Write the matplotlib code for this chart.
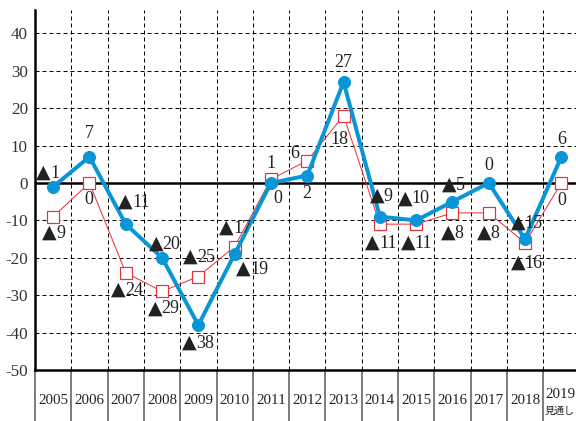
import matplotlib
matplotlib.use("Agg")
import matplotlib.pyplot as plt

# categories and series
years = ["2005", "2006", "2007", "2008", "2009", "2010", "2011", "2012",
         "2013", "2014", "2015", "2016", "2017", "2018", "2019\n見通し"]
blue_vals = [-1, 7, -11, -20, -38, -19, 0, 2, 27, -9, -10, -5, 0, -15, 7]
blue_labels = ["▲1", "7", "▲11", "▲20", "▲38", "▲19", "0", "2", "27",
               "▲9", "▲10", "▲5", "0", "▲15", "6"]
red_vals = [-9, 0, -24, -29, -25, -17, 1, 6, 18, -11, -11, -8, -8, -16, 0]
red_labels = ["▲9", "0", "▲24", "▲29", "▲25", "▲17", "1", "6", "18",
              "▲11", "▲11", "▲8", "▲8", "▲16", "0"]
yticks = list(range(-50, 41, 10))

# label offsets in points (dpi=72, so points == pixels)
blue_off = [(-5, 15), (0, 23), (9, 23), (3, 15), (0, -17), (18, -14), (7, -15),
            (0, -18), (0, 20), (2, 22), (-2, 23), (1, 18), (0, 18), (2, 17), (0, 17)]
red_off = [(1, -15), (-1, -16), (2, -16), (2, -16), (1, 21), (1, 20), (0, 16),
           (-12, 7), (-4, -24), (2, -18), (1, -18), (0, -19), (0, -19), (2, -19), (0, -17)]

BLUE = "#0a96d6"
RED = "#e8303a"
TXT = "#222222"
SERIF = ["Liberation Serif", "DejaVu Serif"]

plt.rcParams["font.family"] = SERIF

fig = plt.figure(figsize=(576 / 72, 421 / 72), dpi=72)
ax = fig.add_axes([35 / 576, 51 / 421, 541 / 576, 360 / 421])
ax.set_xlim(-0.5, -0.5 + 541 / 36.3)
ax.set_ylim(-50, -50 + 360 / 3.74)

# grid
for y in yticks:
    if y in (0, -50):
        continue
    ax.axhline(y, color="black", lw=1, ls=(0, (4, 3)), zorder=1)
for i in range(len(years) - 1):
    ax.axvline(i + 0.5, color="black", lw=1, ls=(0, (4, 3)), zorder=1)
ax.axhline(0, color="black", lw=2.5, zorder=2)

for side in ["top", "right"]:
    ax.spines[side].set_visible(False)
ax.spines["left"].set_linewidth(2.5)
ax.spines["bottom"].set_linewidth(2.5)

ax.set_yticks(yticks)
ax.set_yticklabels([str(t) for t in yticks], fontsize=17, color="#333333")
ax.tick_params(axis="y", length=0, pad=7)
ax.set_xticks([])

# bottom table with years
xt = ax.get_xaxis_transform()
for i in range(len(years)):
    ax.plot([i - 0.5, i - 0.5], [0, -51 / 360], transform=xt, color="#555555",
            lw=1.5, clip_on=False)
for i, yr in enumerate(years):
    if "\n" in yr:
        top, bot = yr.split("\n")
        ax.text(i - 0.45, -24 / 360, top, transform=xt, ha="left", va="center",
                fontsize=15, color=TXT)
        ax.text(i - 0.45, -41 / 360, bot, transform=xt, ha="left", va="center",
                fontsize=10, color=TXT, family=["Noto Sans CJK JP", "DejaVu Sans"])
    else:
        ax.text(i, -30 / 360, yr, transform=xt, ha="center", va="center",
                fontsize=15, color=TXT)

x = list(range(len(years)))
ax.plot(x, red_vals, color=RED, lw=1, marker="s", ms=12, mfc="white",
        mec=RED, mew=1.2, zorder=4)
ax.plot(x, blue_vals, color=BLUE, lw=4, marker="o", ms=12, zorder=5)


def put_label(xv, yv, text, off):
    # triangle drawn in a sans font, the number in serif, sharing one baseline
    dx, dy = off
    if text.startswith("▲"):
        num = text[1:]
        w = 13 + 9 * len(num)
        left = dx - w / 2
        base = dy - 6
        ax.annotate("▲", (xv, yv), xytext=(left - 1, base), textcoords="offset points",
                    ha="left", va="baseline", fontsize=19, color=TXT,
                    family=["DejaVu Sans"], zorder=6)
        ax.annotate(num, (xv, yv), xytext=(left + 13, base), textcoords="offset points",
                    ha="left", va="baseline", fontsize=18, color=TXT, zorder=6)
    else:
        ax.annotate(text, (xv, yv), xytext=off, textcoords="offset points",
                    ha="center", va="center", fontsize=18, color=TXT, zorder=6)


for i in x:
    put_label(i, blue_vals[i], blue_labels[i], blue_off[i])
    put_label(i, red_vals[i], red_labels[i], red_off[i])

fig.savefig("out.png", dpi=72)
